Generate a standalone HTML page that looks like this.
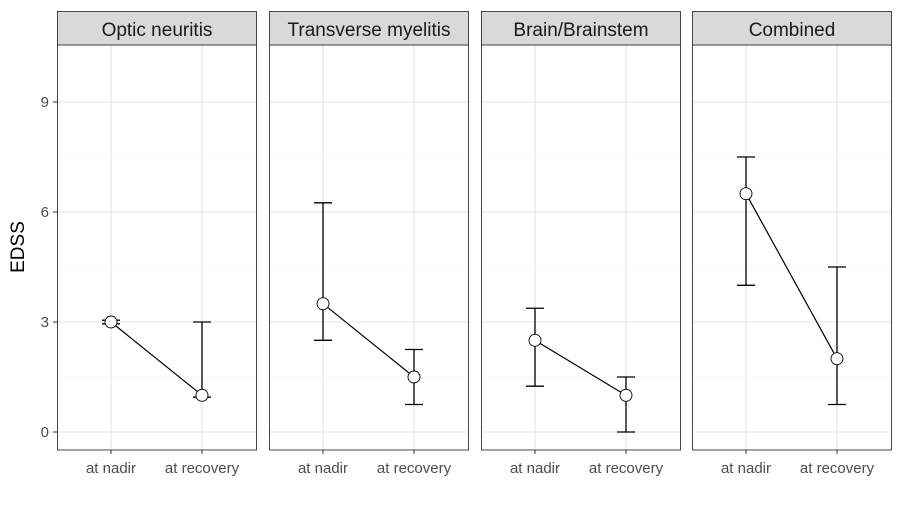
<!DOCTYPE html>
<html><head><meta charset="utf-8"><style>
body{margin:0;background:#fff;font-family:"Liberation Sans",sans-serif}
</style></head><body>
<svg id="c" width="904" height="509" xmlns="http://www.w3.org/2000/svg" font-family="Liberation Sans, sans-serif"></svg>
<script>
const panels=["Optic neuritis","Transverse myelitis","Brain/Brainstem","Combined"];
const categories=["at nadir","at recovery"];
const medians=[[3,1],[3.5,1.5],[2.5,1],[6.5,2]];
const lower=[[2.95,0.95],[2.5,0.75],[1.25,0],[4,0.75]];
const upper=[[3.05,3],[6.25,2.25],[3.375,1.5],[7.5,4.5]];
const yTicks=[0,3,6,9];
const yMinor=[1.5,4.5,7.5,10.5];
const svg=document.getElementById('c');
const NS="http://www.w3.org/2000/svg";
const panelX=[57,269,481,692],panelW=200,panelTop=45,panelBot=450;
const y=v=>432-v*(110/3);
const xc=i=>[54,145][i];
function el(t,a,p){const e=document.createElementNS(NS,t);for(const k in a)e.setAttribute(k,a[k]);(p||svg).appendChild(e);return e;}
panels.forEach((name,p)=>{
  const g=el('g',{transform:`translate(${panelX[p]},0)`});
  
  
  el('rect',{x:0,y:panelTop,width:panelW,height:panelBot-panelTop,fill:'#fff'},g);
  yMinor.forEach(v=>el('line',{x1:0,x2:panelW,y1:y(v),y2:y(v),stroke:'#f0f0f0','stroke-width':0.6},g));
  yTicks.forEach(v=>el('line',{x1:0,x2:panelW,y1:y(v),y2:y(v),stroke:'#e5e5e5','stroke-width':1.1},g));
  categories.forEach((c,i)=>el('line',{x1:xc(i),x2:xc(i),y1:panelTop,y2:panelBot,stroke:'#e5e5e5','stroke-width':1.1},g));
  el('rect',{x:0.5,y:panelTop,width:panelW-1,height:panelBot-panelTop,fill:'none',stroke:'#333','stroke-width':0.9},g);
  const s=el('rect',{x:0.5,y:11.5,width:panelW-1,height:panelTop-11.5,fill:'#d9d9d9',stroke:'#333','stroke-width':0.9},g);
  
  
  const st=el('text',{x:panelW/2,y:36,'text-anchor':'middle','font-size':19,fill:'#1a1a1a'},g);st.textContent=name;
  
  
  el('line',{x1:xc(0),y1:y(medians[p][0]),x2:xc(1),y2:y(medians[p][1]),stroke:'#000','stroke-width':1.2},g);
  categories.forEach((c,i)=>{
    const e=el('path',{d:`M${xc(i)-9},${y(upper[p][i])}H${xc(i)+9}M${xc(i)},${y(upper[p][i])}V${y(lower[p][i])}M${xc(i)-9},${y(lower[p][i])}H${xc(i)+9}`,stroke:'#000','stroke-width':1.3,fill:'none'},g);
    
    
    const pt=el('circle',{cx:xc(i),cy:y(medians[p][i]),r:6,fill:'#fff',stroke:'#000','stroke-width':0.9},g);
    
    
    el('line',{x1:xc(i),x2:xc(i),y1:panelBot,y2:panelBot+4,stroke:'#333'},g);
    const t=el('text',{x:xc(i),y:473,'text-anchor':'middle','font-size':15,fill:'#4d4d4d'},g);t.textContent=c;
    
    
  });
});
yTicks.forEach(v=>{
  el('line',{x1:53,x2:57,y1:y(v),y2:y(v),stroke:'#333'});
  const t=el('text',{x:49,y:y(v)+5,'text-anchor':'end','font-size':15,fill:'#4d4d4d'});t.textContent=v;
  
  
});
const yt=el('text',{x:0,y:0,transform:'translate(24,247) rotate(-90)','text-anchor':'middle','font-size':19,fill:'#000'});yt.textContent='EDSS';


</script>
</body></html>
